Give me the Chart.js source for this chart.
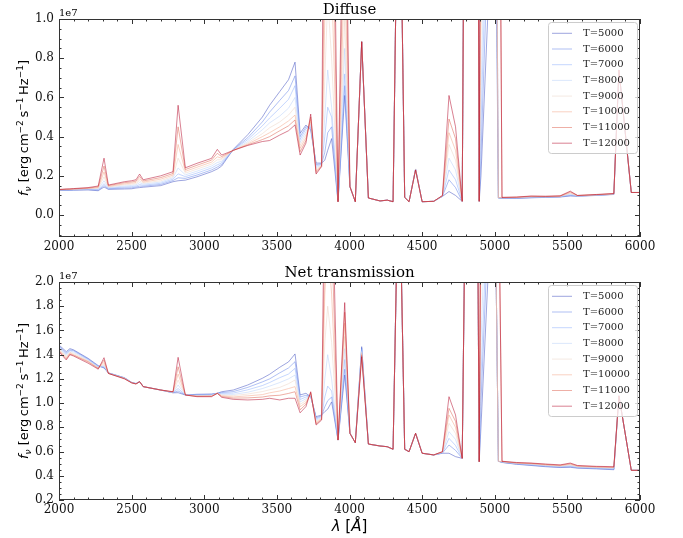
<!DOCTYPE html>
<html>
<head>
<meta charset="utf-8">
<script src="https://cdn.jsdelivr.net/npm/chart.js@4"></script>
<style>
  html, body { margin: 0; padding: 0; background: #fff; }
  #wrap { position: relative; width: 683px; height: 538px; }
  canvas { position: absolute; left: 0; }
</style>
</head>
<body>
<div id="wrap">
  <canvas id="diffuse" width="683" height="262" style="top:0;width:683px;height:262px"></canvas>
  <canvas id="net" width="683" height="276" style="top:262px;width:683px;height:276px"></canvas>
</div>
<script>
// wavelength grid (Angstrom), values in units of 1e7
const wavelengths = [2000,2050,2075,2100,2200, 2270,2310,2340,2450,2500, 2530,2555,2580,2700,2785,
  2820,2870,2950,3050,3090, 3120,3200,3300,3400,3450, 3520,3580,3625,3660,3700,
  3733,3770,3808,3830,3850, 3877,3921,3967,4003,4040, 4084,4130,4210,4260,4300,
  4325,4355,4380,4410,4455, 4500,4580,4640,4685,4730, 4776,4800,4880,4893,4905,
  4950,5000,5025,5050,5150, 5250,5350,5450,5520,5570, 5700,5820,5855,5940,6000];

const temps = ['T=5000','T=6000','T=7000','T=8000','T=9000','T=10000','T=11000','T=12000'];

const xTicks = [2000,2500,3000,3500,4000,4500,5000,5500,6000];
const yTicksDiffuse = [0.0,0.2,0.4,0.6,0.8,1.0];
const yTicksNet = [0.2,0.4,0.6,0.8,1.0,1.2,1.4,1.6,1.8,2.0];

// Diffuse
const diffuseT5000 = [.125,.126,.126,.127,.128, .124,.143,.131,.133,.134, .138,.14,.142,.15,.17,
  .175,.178,.195,.221,.235, .25,.335,.41,.50,.56, .63,.69,.78,.417,.459,
  .434,.265,.265,.28,.33, .39,.068,.61,.145,.068, .884,.087,.072,.076,.068,
  1.4,1.4,.09,.068,.235, .068,.07,.095,.12,.10, .07,3,3,.07,.2,
  .98,2,.087,.085,.085, .088,.09,.092,.097,.096, .10,.105,.74,.115,.115];
const diffuseT6000 = [.126,.127,.127,.128,.13, .127,.15,.134,.138,.139, .143,.147,.147,.156,.176,
  .19,.187,.204,.23,.245, .258,.334,.395,.475,.525, .585,.635,.71,.40,.45,
  .445,.257,.262,.32,.42, .45,.068,.66,.145,.068, .884,.087,.072,.076,.068,
  1.4,1.4,.09,.068,.234, .068,.07,.096,.18,.14, .07,3,3,.07,.3,
  1.3,2.5,.087,.086,.086, .089,.091,.093,.10,.097, .101,.106,.74,.115,.115];
const diffuseT7000 = [.127,.128,.128,.129,.131, .13,.16,.137,.143,.145, .148,.155,.152,.162,.183,
  .21,.196,.214,.24,.256, .266,.333,.385,.455,.495, .545,.59,.66,.385,.44,
  .455,.249,.26,.40,.55, .50,.068,.72,.145,.068, .884,.087,.072,.076,.068,
  1.4,1.4,.09,.068,.233, .068,.07,.097,.23,.18, .07,3,3,.07,.45,
  1.6,3,.088,.087,.087, .09,.092,.094,.103,.097, .101,.106,.74,.115,.115];
const diffuseT8000 = [.128,.129,.129,.13,.133, .133,.175,.14,.148,.151, .154,.165,.158,.168,.19,
  .24,.205,.224,.25,.268, .274,.332,.375,.435,.47, .505,.545,.60,.37,.425,
  .465,.241,.257,.50,.74, .55,.068,.85,.145,.068, .884,.087,.072,.076,.068,
  1.4,1.4,.09,.068,.233, .068,.07,.097,.29,.23, .07,3,3,.07,.6,
  2,3,.088,.087,.088, .092,.093,.095,.107,.098, .102,.107,.74,.115,.115];
const diffuseT9000 = [.128,.13,.13,.131,.134, .137,.195,.143,.154,.157, .16,.175,.163,.175,.197,
  .29,.214,.234,.26,.282, .282,.331,.368,.415,.445, .475,.51,.55,.355,.41,
  .475,.233,.255,.70,1.1, .8,.068,1.0,.145,.068, .884,.087,.072,.076,.068,
  1.4,1.4,.09,.068,.232, .068,.07,.098,.36,.28, .07,3,3,.07,.9,
  2.5,3,.089,.088,.089, .093,.093,.095,.11,.098, .103,.108,.74,.115,.115];
const diffuseT10000 = [.129,.131,.131,.132,.136, .14,.22,.146,.159,.163, .166,.185,.168,.183,.204,
  .36,.223,.244,.27,.297, .29,.33,.362,.40,.42, .45,.48,.51,.34,.395,
  .487,.225,.252,1.0,1.5, 1.2,.068,1.3,.145,.068, .884,.087,.072,.076,.068,
  1.4,1.4,.09,.068,.231, .068,.07,.098,.42,.33, .07,3,3,.07,1.3,
  3,3,.089,.089,.09, .094,.094,.096,.114,.099, .103,.108,.74,.115,.115];
const diffuseT11000 = [.13,.132,.132,.134,.138, .144,.25,.15,.165,.169, .173,.197,.174,.191,.212,
  .45,.232,.254,.28,.315, .298,.33,.358,.385,.40, .43,.455,.485,.323,.38,
  .50,.217,.25,1.4,2.0, 1.8,.068,1.7,.145,.068, .884,.087,.072,.076,.068,
  1.4,1.4,.09,.068,.23, .068,.07,.099,.49,.39, .07,3,3,.07,2,
  3,3,3,.09,.091, .096,.095,.097,.118,.10, .104,.109,.74,.115,.115];
const diffuseT12000 = [.13,.133,.134,.135,.14, .148,.29,.153,.17,.175, .18,.209,.18,.20,.221,
  .56,.241,.264,.289,.335, .306,.33,.355,.375,.38, .408,.43,.46,.306,.367,
  .515,.209,.247,2.5,2.5, 2.5,.068,2.2,.145,.068, .884,.087,.072,.076,.068,
  1.4,1.4,.09,.068,.23, .068,.07,.10,.61,.45, .07,3,3,.07,3,
  3,3,3,.09,.092, .097,.096,.098,.122,.10, .105,.11,.74,.115,.115];

// Net transmission
const netT5000 = [1.48,1.425,1.45,1.44,1.37, 1.31,1.29,1.25,1.21,1.172, 1.162,1.177,1.136,1.108,1.085,
  1.086,1.067,1.073,1.075,1.081, 1.094,1.108,1.15,1.205,1.238, 1.296,1.34,1.406,1.067,1.081,
  1.053,.888,.902,.93,.95, 1.01,.695,1.232,.751,.673, 1.466,.662,.646,.64,.619,
  2.2,2.2,.619,.599,.751, .586,.572,.586,.586,.558, .544,3,3,.516,.8,
  1.95,3,.52,.51,.495, .485,.475,.468,.47,.463, .457,.45,1.06,.445,.445];
const netT6000 = [1.47,1.415,1.44,1.435,1.365, 1.305,1.295,1.249,1.208,1.171, 1.161,1.177,1.136,1.108,1.086,
  1.10,1.067,1.07,1.072,1.081, 1.087,1.095,1.13,1.175,1.20, 1.25,1.29,1.342,1.05,1.065,
  1.058,.878,.896,.97,1.02, 1.05,.695,1.28,.751,.673, 1.455,.662,.646,.64,.619,
  2.2,2.2,.619,.599,.751, .586,.572,.588,.654,.61, .544,3,3,.516,1.0,
  2.3,3,.52,.511,.497, .488,.478,.471,.475,.466, .46,.454,1.06,.445,.445];
const netT7000 = [1.465,1.405,1.435,1.43,1.36, 1.30,1.30,1.248,1.207,1.17, 1.16,1.177,1.136,1.108,1.087,
  1.12,1.067,1.067,1.069,1.081, 1.08,1.083,1.11,1.145,1.17, 1.21,1.24,1.287,1.03,1.05,
  1.063,.868,.89,1.05,1.14, 1.1,.695,1.36,.751,.673, 1.443,.662,.646,.64,.619,
  2.2,2.2,.619,.599,.751, .586,.572,.59,.709,.65, .544,3,3,.516,1.2,
  2.6,3,.52,.513,.499, .491,.481,.474,.48,.469, .463,.457,1.06,.445,.445];
const netT8000 = [1.455,1.395,1.43,1.42,1.355, 1.297,1.31,1.247,1.206,1.17, 1.16,1.177,1.136,1.108,1.088,
  1.15,1.067,1.064,1.066,1.081, 1.073,1.072,1.09,1.12,1.14, 1.17,1.20,1.232,1.01,1.035,
  1.068,.858,.884,1.2,1.4, 1.2,.695,1.45,.751,.673, 1.432,.662,.646,.64,.619,
  2.2,2.2,.619,.599,.751, .586,.572,.592,.764,.70, .544,3,3,.516,1.5,
  3,3,.52,.514,.501, .494,.484,.477,.485,.472, .466,.461,1.06,.445,.445];
const netT9000 = [1.45,1.385,1.42,1.41,1.35, 1.293,1.32,1.246,1.205,1.169, 1.159,1.177,1.136,1.108,1.09,
  1.19,1.067,1.061,1.062,1.081, 1.066,1.062,1.075,1.095,1.11, 1.13,1.16,1.191,.99,1.02,
  1.074,.848,.878,1.5,1.8, 1.5,.695,1.55,.751,.673, 1.42,.662,.646,.64,.619,
  2.2,2.2,.619,.599,.751, .586,.572,.594,.833,.75, .544,3,3,.516,2.0,
  3,3,.52,.516,.503, .497,.487,.48,.49,.475, .469,.464,1.06,.445,.445];
const netT10000 = [1.44,1.375,1.415,1.40,1.345, 1.29,1.335,1.246,1.204,1.168, 1.159,1.177,1.136,1.108,1.091,
  1.24,1.067,1.058,1.059,1.081, 1.06,1.051,1.06,1.07,1.085, 1.10,1.12,1.136,.97,1.005,
  1.08,.838,.872,1.9,2.3, 1.9,.695,1.66,.751,.673, 1.408,.662,.646,.64,.619,
  2.2,2.2,.619,.599,.751, .586,.572,.596,.902,.80, .544,3,3,.516,2.6,
  3,3,.52,.517,.505, .50,.49,.483,.495,.478, .472,.468,1.06,.445,.445];
const netT11000 = [1.43,1.365,1.405,1.395,1.34, 1.285,1.355,1.245,1.203,1.168, 1.158,1.177,1.136,1.108,1.093,
  1.30,1.067,1.055,1.056,1.081, 1.054,1.041,1.043,1.05,1.06, 1.065,1.08,1.094,.945,.99,
  1.087,.828,.866,2.3,2.6, 2.4,.695,1.75,.751,.673, 1.395,.662,.646,.64,.619,
  2.2,2.2,.619,.599,.751, .586,.572,.598,.957,.85, .544,3,3,.516,3,
  3,3,3,.519,.507, .503,.494,.487,.50,.482, .475,.471,1.06,.445,.445];
const netT12000 = [1.425,1.356,1.40,1.389,1.33, 1.28,1.375,1.245,1.20,1.167, 1.158,1.177,1.136,1.108,1.094,
  1.378,1.067,1.053,1.053,1.081, 1.048,1.031,1.026,1.031,1.04, 1.026,1.04,1.04,.92,.971,
  1.094,.819,.86,3,3, 3,.695,1.83,.751,.673, 1.383,.662,.646,.64,.619,
  2.2,2.2,.619,.599,.751, .586,.572,.60,1.053,.902, .544,3,3,.516,3,
  3,3,3,.52,.51, .505,.497,.49,.505,.485, .478,.475,1.06,.445,.445];

// coolwarm samples
const lineColors = [[59,76,192],[98,130,234],[141,176,254],[184,208,249],
                    [236,211,197],[245,165,135],[222,96,77],[180,4,38]];
const lineAlpha = 0.5;

const SERIF = '"DejaVu Serif", serif';
const SANS = '"DejaVu Sans", sans-serif';

function drawRich(ctx, segs, cx, cy) {
    let total = 0;
    segs.forEach(s => { ctx.font = s.font; s.w = ctx.measureText(s.t).width; total += s.w; });
    let x = cx - total / 2;
    ctx.textAlign = 'left';
    ctx.textBaseline = 'alphabetic';
    segs.forEach(s => { ctx.font = s.font; ctx.fillText(s.t, x, cy + (s.dy || 0)); x += s.w; });
}

const mplPlugin = {
    id: 'mpl',
    afterDatasetsDraw(chart, args, o) {
        const { ctx, chartArea: a, scales: { x, y } } = chart;
        ctx.save();
        ctx.strokeStyle = '#333';
        ctx.lineWidth = 1;
        ctx.strokeRect(a.left + 0.5, a.top + 0.5, a.right - a.left - 1, a.bottom - a.top - 1);

        // inward ticks on all four sides
        ctx.beginPath();
        for (let v = 2000; v <= 6000; v += 100) {
            const px = Math.round(x.getPixelForValue(v)) + 0.5;
            const len = v % 500 === 0 ? 5 : 2.5;
            ctx.moveTo(px, a.bottom); ctx.lineTo(px, a.bottom - len);
            ctx.moveTo(px, a.top); ctx.lineTo(px, a.top + len);
        }
        for (let k = Math.ceil(y.min / o.minor); k * o.minor <= y.max + 1e-9; k++) {
            const v = k * o.minor;
            const py = Math.round(y.getPixelForValue(v)) + 0.5;
            const major = Math.abs(v / 0.2 - Math.round(v / 0.2)) < 1e-6;
            const len = major ? 5 : 2.5;
            ctx.moveTo(a.left, py); ctx.lineTo(a.left + len, py);
            ctx.moveTo(a.right, py); ctx.lineTo(a.right - len, py);
        }
        ctx.stroke();

        // legend
        const bx = a.right - 92, by = a.top + 3, bw = 89, bh = 131;
        ctx.beginPath();
        ctx.roundRect(bx + 0.5, by + 0.5, bw, bh, 3);
        ctx.fillStyle = 'rgba(255,255,255,0.8)';
        ctx.fill();
        ctx.strokeStyle = '#ccc';
        ctx.stroke();
        ctx.font = '10px ' + SERIF;
        ctx.textBaseline = 'middle';
        ctx.textAlign = 'left';
        chart.data.datasets.forEach((ds, i) => {
            const ry = a.top + 14.3 + i * 15.7;
            ctx.strokeStyle = ds.borderColor;
            ctx.lineWidth = 1;
            ctx.beginPath();
            ctx.moveTo(bx + 4, ry); ctx.lineTo(bx + 24, ry);
            ctx.stroke();
            ctx.fillStyle = '#222';
            ctx.fillText(ds.label, bx + 35, ry);
        });
        ctx.restore();
    },
    afterDraw(chart, args, o) {
        const { ctx, chartArea: a } = chart;
        const cx = (a.left + a.right) / 2;
        ctx.save();
        ctx.fillStyle = '#000';
        ctx.font = '15px ' + SERIF;
        ctx.textAlign = 'center';
        ctx.textBaseline = 'middle';
        ctx.fillText(o.title, cx, a.top - 9);

        ctx.font = '10px ' + SERIF;
        ctx.textAlign = 'left';
        ctx.textBaseline = 'alphabetic';
        ctx.fillText('1e7', a.left, a.top - 3);

        // y label
        ctx.save();
        ctx.translate(28, (a.top + a.bottom) / 2);
        ctx.rotate(-Math.PI / 2);
        const f = '13px ' + SANS, s = '9px ' + SANS;
        drawRich(ctx, [
            { t: 'f', font: 'italic ' + f },
            { t: 'ν', font: 'italic ' + s, dy: 3 },
            { t: ' [erg\u2009cm', font: f },
            { t: '−2', font: s, dy: -5 },
            { t: '\u2009s', font: f },
            { t: '−1', font: s, dy: -5 },
            { t: '\u2009Hz', font: f },
            { t: '−1', font: s, dy: -5 },
            { t: ']', font: f }
        ], 0, 0);
        ctx.restore();

        if (o.xLabel) {
            const g = '15px ' + SANS;
            drawRich(ctx, [
                { t: 'λ', font: 'italic ' + g },
                { t: ' [', font: g },
                { t: 'Å', font: 'italic ' + g },
                { t: ']', font: g }
            ], cx, a.bottom + 31);
        }
        ctx.restore();
    }
};

function makeChart(id, series, yMin, yMax, yTicks, minor, title, padBottom, xLabel) {
    const datasets = series.map((vals, i) => {
        const c = lineColors[i];
        return {
            label: temps[i],
            data: wavelengths.map((w, j) => ({ x: w, y: vals[j] })),
            borderColor: `rgba(${c[0]},${c[1]},${c[2]},${lineAlpha})`,
            borderWidth: 1,
            pointRadius: 0,
            tension: 0,
            fill: false,
            order: series.length - 1 - i
        };
    });
    return new Chart(document.getElementById(id), {
        type: 'line',
        data: { datasets },
        options: {
            responsive: false,
            animation: false,
            layout: { padding: { top: id === 'diffuse' ? 19 : 20, right: 43, left: 0, bottom: padBottom } },
            plugins: {
                legend: { display: false },
                tooltip: { enabled: false },
                mpl: { title, minor, xLabel }
            },
            scales: {
                x: {
                    type: 'linear', min: 2000, max: 6000,
                    afterBuildTicks: sc => { sc.ticks = xTicks.map(v => ({ value: v })); },
                    afterFit: sc => { sc.height = 25; },
                    grid: { display: false, drawTicks: false },
                    border: { display: false },
                    ticks: { color: '#111', padding: 3, maxRotation: 0, autoSkip: false,
                             font: { family: 'DejaVu Serif', size: 12 },
                             callback: v => String(v) }
                },
                y: {
                    type: 'linear', min: yMin, max: yMax,
                    afterBuildTicks: sc => { sc.ticks = yTicks.map(v => ({ value: v })); },
                    afterFit: sc => { sc.width = 59; },
                    grid: { display: false, drawTicks: false },
                    border: { display: false },
                    ticks: { color: '#111', padding: 5,
                             font: { family: 'DejaVu Serif', size: 12 },
                             callback: v => Number(v).toFixed(1) }
                }
            }
        },
        plugins: [mplPlugin]
    });
}

makeChart('diffuse',
    [diffuseT5000, diffuseT6000, diffuseT7000, diffuseT8000, diffuseT9000, diffuseT10000, diffuseT11000, diffuseT12000],
    -0.112, 1.0, yTicksDiffuse, 0.05, 'Diffuse', 0, false);

makeChart('net',
    [netT5000, netT6000, netT7000, netT8000, netT9000, netT10000, netT11000, netT12000],
    0.2, 2.0, yTicksNet, 0.05, 'Net transmission', 13, true);
</script>
</body>
</html>
